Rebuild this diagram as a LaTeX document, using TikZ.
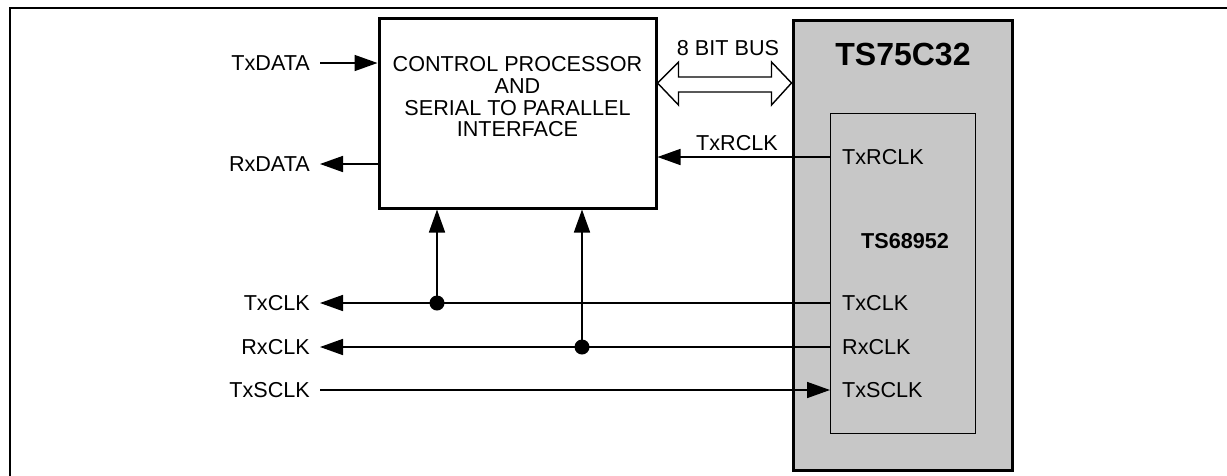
\documentclass[tikz,border=0pt]{standalone}
\usepackage{fontspec}
\setmainfont{Liberation Sans}
\usetikzlibrary{arrows.meta,calc}
\begin{document}
\begin{tikzpicture}[x=1pt,y=-1pt,
  every node/.style={font=\fontsize{21.6}{21.7}\selectfont},
  lbl/.style={anchor=east,inner xsep=10pt,inner ysep=0pt},
  pin/.style={anchor=west,inner xsep=12pt,inner ysep=0pt},
  wire/.style={line width=1.6pt},
  tri/.style={-{Triangle[length=23pt,width=16pt]}},
  dotjn/.style={fill=black},
  chip/.style={draw,line width=3pt,fill=black!22},
]
\useasboundingbox (0,0) rectangle (1227,475);
\clip (0,0) rectangle (1227,475);
% outer frame
\draw[line width=2.6pt] (10,8) rectangle (1260,500);
% control processor
\node[draw,line width=3pt,minimum width=277pt,minimum height=190pt,inner sep=0pt,align=center] (ctrl) at (517.5,113) {};
\node[align=center,inner sep=0pt] (ctrltxt) at (517.5,97) {CONTROL PROCESSOR\\AND\\SERIAL TO PARALLEL\\INTERFACE};
% TS75C32
\node[chip,minimum width=219pt,minimum height=450pt,inner sep=0pt] (ts) at (902.5,245) {};
\node[font=\fontsize{32}{34}\selectfont\bfseries,inner sep=0pt] (tstitle) at (903,55) {TS75C32};
\node[draw,line width=0.9pt,minimum width=145pt,minimum height=320pt,inner sep=0pt] (ic) at (902.5,273) {};
\node[font=\fontsize{21.6}{22}\selectfont\bfseries,inner sep=0pt] (ictitle) at (905,241) {TS68952};
% pins
\node[pin] (pTxRCLK) at (830,157) {TxRCLK};
\node[pin] (pTxCLK) at (830,303) {TxCLK};
\node[pin] (pRxCLK) at (830,347) {RxCLK};
\node[pin] (pTxSCLK) at (830,390) {TxSCLK};
% left labels
\node[lbl] (lTxDATA) at (320,63) {TxDATA};
\node[lbl] (lRxDATA) at (320,164) {RxDATA};
\node[lbl] (lTxCLK) at (320,303) {TxCLK};
\node[lbl] (lRxCLK) at (320,347) {RxCLK};
\node[lbl] (lTxSCLK) at (320,390) {TxSCLK};
% wires
\draw[wire,tri] (lTxDATA.east) -- (lTxDATA.east -| ctrl.west);
\draw[wire,tri] (lRxDATA.east -| ctrl.west) -- (lRxDATA.east);
\draw[wire,tri] (pTxRCLK.west) -- (pTxRCLK.west -| ctrl.east);
\node[inner sep=0pt] (busr) at (737,143) {TxRCLK};
\draw[wire,tri] (pTxCLK.west) -- (lTxCLK.east);
\draw[wire,tri] (pRxCLK.west) -- (lRxCLK.east);
\draw[wire,tri] (lTxSCLK.east) -- (pTxSCLK.west);
\coordinate (j1) at (437,303);
\coordinate (j2) at (582,347);
\fill[dotjn] (j1) circle (7.5pt);
\fill[dotjn] (j2) circle (7.5pt);
\draw[wire,tri] (j1) -- (j1 |- ctrl.south);
\draw[wire,tri] (j2) -- (j2 |- ctrl.south);
% bus
\node[inner sep=0pt] (buslbl) at (728,48) {8 BIT BUS};
\coordinate (bl) at (ctrl.east |- 0,83);
\coordinate (br) at (ts.west |- 0,83);
\draw[line width=1.4pt,fill=white,line join=miter] (bl) -- ++(21,-21) -- ++(0,15) -- ($(br)+(-20,-6)$) -- ++(0,-15) -- (br) -- ++(-20,22) -- ++(0,-13) -- ($(bl)+(21,9)$) -- ++(0,13) -- cycle;
\end{tikzpicture}
\end{document}
